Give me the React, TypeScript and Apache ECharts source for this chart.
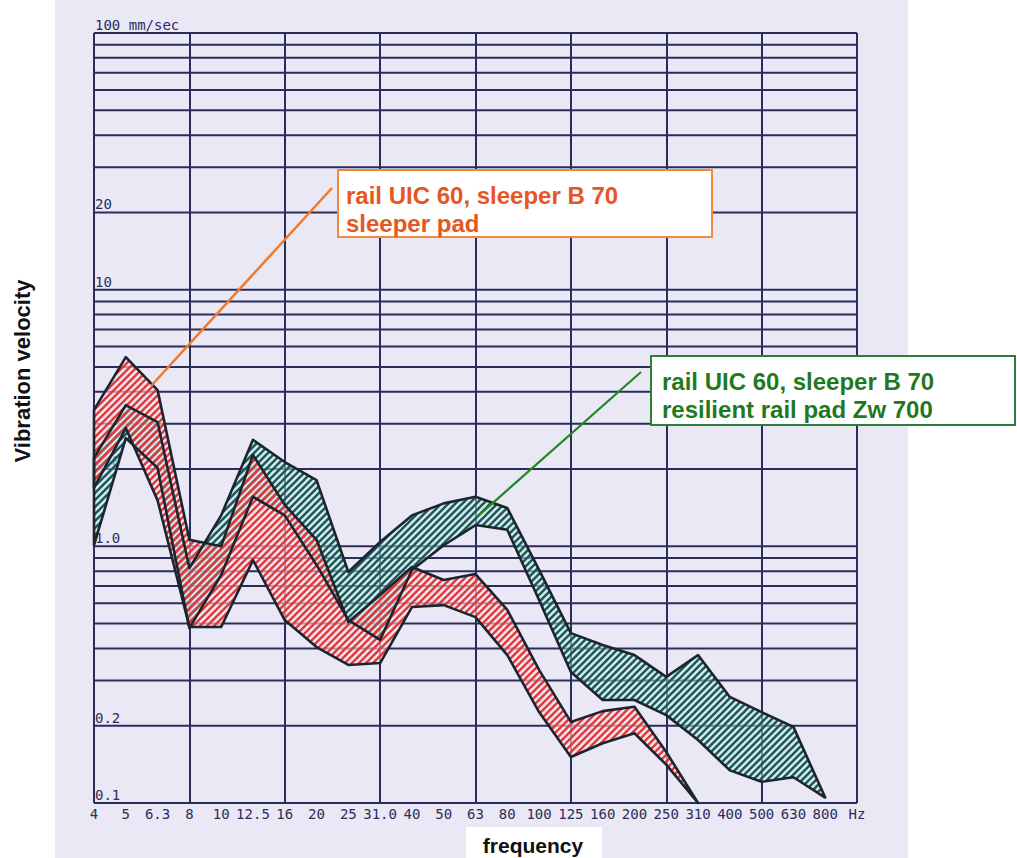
import React, { useEffect, useRef } from "react";
import * as echarts from "echarts";

// x-axis tick labels (1/3 octave bands, Hz)
const freqLabels = ["4", "5", "6.3", "8", "10", "12.5", "16", "20", "25", "31.0", "40", "50", "63", "80", "100", "125", "160", "200", "250", "310", "400", "500", "630", "800", "Hz"];

// red band: rail UIC 60, sleeper B 70, sleeper pad (mm/sec), 4 Hz .. 310 Hz
const padUpper = [3.4, 5.46, 4.06, 1.06, 1.0, 2.27, 1.45, 1.06, 0.507, 0.646, 0.831, 0.739, 0.78, 0.565, 0.33, 0.207, 0.228, 0.237, 0.158, 0.1];
const padLower = [1.69, 2.89, 1.51, 0.485, 0.485, 0.884, 0.516, 0.405, 0.345, 0.351, 0.58, 0.59, 0.53, 0.377, 0.226, 0.151, 0.171, 0.187, 0.141, 0.1];

// green band: rail UIC 60, sleeper B 70, resilient rail pad Zw 700, 4 Hz .. 800 Hz
const zwUpper = [2.21, 3.55, 3.05, 0.823, 1.32, 2.6, 2.13, 1.81, 0.794, 1.04, 1.32, 1.47, 1.56, 1.41, 0.809, 0.459, 0.413, 0.377, 0.31, 0.377, 0.259, 0.226, 0.198, 0.105];
const zwLower = [1.01, 2.64, 2.02, 0.48, 0.773, 1.56, 1.32, 0.846, 0.516, 0.432, 0.809, 1.01, 1.21, 1.16, 0.618, 0.324, 0.252, 0.252, 0.22, 0.176, 0.134, 0.121, 0.126, 0.105];

// horizontal log grid lines
const gridValues = [0.1, 0.2, 0.3, 0.4, 0.5, 0.6, 0.7, 0.8, 0.9, 1, 2, 3, 4, 5, 6, 7, 8, 9, 10, 20, 30, 40, 50, 60, 70, 80, 90, 100];
// y labels
const yLabelValues = [100, 20, 10, 2, 1, 0.2, 0.1];
const yLabelTexts = ["100 mm/sec", "20", "10", "2.0", "1.0", "0.2", "0.1"];

const NAVY = "#2a2d5c";
const OUTLINE = "#1b2530";
const PLOT_FONT = '"DejaVu Sans Mono", "Liberation Mono", monospace';
const SANS = '"Liberation Sans", Arial, sans-serif';

function stripes(stripe: string, gap: string, gapOpacity: number, width: number, offset: number) {
  const s = 7;
  const svg =
    `<svg xmlns='http://www.w3.org/2000/svg' width='${s}' height='${s}'>` +
    `<rect width='${s}' height='${s}' fill='${gap}' fill-opacity='${gapOpacity}'/>` +
    `<path d='M${-s},${s} L${s},${-s} M0,${2 * s} L${2 * s},0 M0,${s} L${s},0' stroke='${stripe}' stroke-width='${width}'/>` +
    `</svg>`;
  return {
    image: "data:image/svg+xml;charset=utf-8," + encodeURIComponent(svg),
    repeat: "repeat",
    imageWidth: s,
    imageHeight: s,
    x: offset,
    y: 0,
  };
}

function bandSeries(upper: number[], lower: number[], style: any) {
  return {
    type: "custom",
    coordinateSystem: "cartesian2d",
    data: [[0, 1]],
    silent: true,
    renderItem: (_p: any, api: any) => {
      const top = upper.map((v, i) => api.coord([i, v]));
      const bottom = lower.map((v, i) => api.coord([i, v])).reverse();
      return {
        type: "polygon",
        shape: { points: top.concat(bottom) },
        style,
      };
    },
  };
}

export default function App() {
  const ref = useRef<HTMLDivElement>(null);
  useEffect(() => {
    const chart = echarts.init(ref.current!, null, { renderer: "svg" });
    const outline = { fill: null, stroke: OUTLINE, lineWidth: 2.6, lineJoin: "round" };
    const option: any = {
      animation: false,
      backgroundColor: "#ffffff",
      grid: { left: 94, top: 33, width: 763, height: 770 },
      xAxis: {
        type: "category",
        data: freqLabels,
        boundaryGap: false,
        axisLine: { show: false },
        axisTick: { show: false },
        axisLabel: { interval: 0, margin: 4, color: NAVY, fontFamily: PLOT_FONT, fontSize: 14, hideOverlap: false },
        splitLine: { show: true, interval: (i: number) => i % 3 === 0, lineStyle: { color: NAVY, width: 2 } },
      },
      yAxis: {
        type: "log",
        logBase: 10,
        min: 0.1,
        max: 100,
        axisLine: { show: false },
        axisTick: { show: false },
        axisLabel: { show: false },
        splitLine: { show: false },
      },
      graphic: [
        { type: "rect", z: -10, shape: { x: 55, y: 0, width: 853, height: 858 }, style: { fill: "#ebe8f6" } },
        { type: "rect", z: -9, shape: { x: 466, y: 827, width: 136, height: 31 }, style: { fill: "#ffffff" } },
        {
          type: "text", z: 100, x: 533, y: 845,
          style: { text: "frequency", fill: "#111", font: `bold 21px ${SANS}`, textAlign: "center", textVerticalAlign: "middle" },
        },
        {
          type: "text", z: 100, x: 22, y: 371, rotation: Math.PI / 2,
          style: { text: "Vibration velocity", fill: "#111", font: `bold 22px ${SANS}`, textAlign: "center", textVerticalAlign: "middle" },
        },
        { type: "line", z: 100, shape: { x1: 332, y1: 188, x2: 151, y2: 386 }, style: { stroke: "#f07a28", lineWidth: 2.5 } },
        { type: "rect", z: 100, shape: { x: 338, y: 170, width: 374, height: 67 }, style: { fill: "#ffffff", stroke: "#f08a3c", lineWidth: 2 } },
        {
          type: "text", z: 101, x: 346, y: 195,
          style: { text: "rail UIC 60, sleeper B 70", fill: "#e8561f", font: `bold 24px ${SANS}`, textAlign: "left", textVerticalAlign: "middle" },
        },
        {
          type: "text", z: 101, x: 346, y: 223,
          style: { text: "sleeper pad", fill: "#e8561f", font: `bold 24px ${SANS}`, textAlign: "left", textVerticalAlign: "middle" },
        },
        { type: "line", z: 100, shape: { x1: 641, y1: 372, x2: 477, y2: 517 }, style: { stroke: "#1f8a1f", lineWidth: 2.2 } },
        { type: "rect", z: 100, shape: { x: 651, y: 356, width: 364, height: 69 }, style: { fill: "#ffffff", stroke: "#2a7f3a", lineWidth: 2 } },
        {
          type: "text", z: 101, x: 662, y: 381,
          style: { text: "rail UIC 60, sleeper B 70", fill: "#1f7a1f", font: `bold 24px ${SANS}`, textAlign: "left", textVerticalAlign: "middle" },
        },
        {
          type: "text", z: 101, x: 662, y: 409,
          style: { text: "resilient rail pad Zw 700", fill: "#1f7a1f", font: `bold 24px ${SANS}`, textAlign: "left", textVerticalAlign: "middle" },
        },
      ],
      series: [
        {
          type: "custom",
          coordinateSystem: "cartesian2d",
          silent: true,
          data: gridValues.map((v) => [0, v]),
          renderItem: (p: any, api: any) => {
            const v = gridValues[p.dataIndex];
            const a = api.coord([0, v]);
            const b = api.coord([freqLabels.length - 1, v]);
            return { type: "line", shape: { x1: a[0], y1: a[1], x2: b[0], y2: b[1] }, style: { stroke: NAVY, lineWidth: 2 } };
          },
        },
        {
          type: "custom",
          coordinateSystem: "cartesian2d",
          silent: true,
          data: yLabelValues.map((v) => [0, v]),
          renderItem: (p: any, api: any) => {
            const a = api.coord([0, yLabelValues[p.dataIndex]]);
            return {
              type: "text",
              x: a[0] + 1,
              y: a[1] - 1,
              style: { text: yLabelTexts[p.dataIndex], fill: NAVY, font: `14px ${PLOT_FONT}`, textAlign: "left", textVerticalAlign: "bottom" },
            };
          },
        },
        // red band pale base
        bandSeries(padUpper, padLower, { fill: "#fbe1e6", opacity: 0.6, stroke: null }),
        // green band hatch
        bandSeries(zwUpper, zwLower, { fill: stripes("#1d5a56", "#c4ecee", 0.5, 2.6, 0), stroke: null }),
        // red band hatch (offset half a period so overlaps interleave)
        bandSeries(padUpper, padLower, { fill: stripes("#e2383c", "#ffffff", 0, 2.4, 3.5), stroke: null }),
        bandSeries(padUpper, padLower, outline),
        bandSeries(zwUpper, zwLower, outline),
      ],
    };
    chart.setOption(option);
    return () => chart.dispose();
  }, []);
  return <div ref={ref} style={{ position: "fixed", left: 0, top: 0, width: 1017, height: 858 }} />;
}
